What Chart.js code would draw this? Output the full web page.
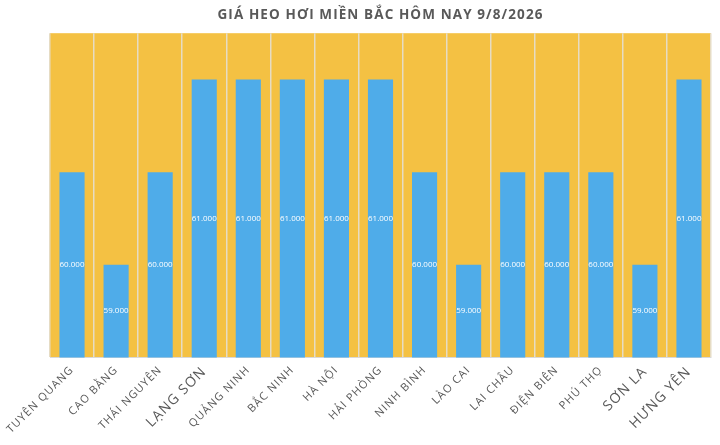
<!DOCTYPE html>
<html>
<head>
<meta charset="utf-8">
<script src="https://cdn.jsdelivr.net/npm/chart.js@4.4.0/dist/chart.umd.min.js"></script>
<style>
  html, body { margin: 0; padding: 0; background: #fff; }
  #wrap { width: 720px; height: 445px; }
</style>
</head>
<body>
<div id="wrap"><canvas id="giaChart"></canvas></div>
<script>
// gia heo hoi mien Bac
const provinces = [
  'TUYÊN QUANG', 'CAO BẰNG', 'THÁI NGUYÊN', 'LẠNG SƠN', 'QUẢNG NINH',
  'BẮC NINH', 'HÀ NỘI', 'HẢI PHÒNG', 'NINH BÌNH', 'LÀO CAI',
  'LAI CHÂU', 'ĐIỆN BIÊN', 'PHÚ THỌ', 'SƠN LA', 'HƯNG YÊN'
];
const prices = [60000, 59000, 60000, 61000, 61000, 61000, 61000, 61000, 60000, 59000, 60000, 60000, 60000, 59000, 61000];
const bigLabels = ['LẠNG SƠN', 'SƠN LA', 'HƯNG YÊN'];

function fmt(v) {
  return (v / 1000).toFixed(3);
}

// yellow background behind the plot, letter spacing for title + ticks
const bgPlugin = {
  id: 'bg',
  beforeDraw(chart) {
    const { ctx, chartArea: a } = chart;
    ctx.save();
    ctx.fillStyle = '#F4C143';
    ctx.fillRect(a.left, a.top, a.right - a.left, a.bottom - a.top);
    ctx.restore();
    ctx.letterSpacing = '1.1px';
  }
};

// value labels in the middle of each bar
const valuePlugin = {
  id: 'barValues',
  afterDraw(chart) {
    const ctx = chart.ctx;
    const xs = chart.scales.x;
    const ys = chart.scales.y;
    const bottom = chart.chartArea.bottom;
    ctx.letterSpacing = '0px';
    ctx.save();
    ctx.fillStyle = '#ffffff';
    ctx.font = '8px "Open Sans", "DejaVu Sans", sans-serif';
    ctx.textAlign = 'center';
    ctx.textBaseline = 'middle';
    prices.forEach((v, i) => {
      const x = xs.getPixelForValue(i);
      const top = ys.getPixelForValue(v);
      ctx.fillText(fmt(v), x, (top + bottom) / 2);
    });
    ctx.restore();
  }
};

new Chart(document.getElementById('giaChart'), {
  type: 'bar',
  data: {
    labels: provinces,
    datasets: [{
      data: prices,
      backgroundColor: '#4FACE9',
      barPercentage: 0.57,
      categoryPercentage: 1
    }]
  },
  options: {
    responsive: true,
    maintainAspectRatio: false,
    animation: false,
    layout: { padding: { left: 50, right: 9, top: 0, bottom: 9 } },
    plugins: {
      legend: { display: false },
      tooltip: { enabled: false },
      title: {
        display: true,
        text: 'GIÁ HEO HƠI MIỀN BẮC HÔM NAY 9/8/2026',
        color: '#595959',
        font: { family: '"Open Sans", sans-serif', size: 13.5, weight: 'bold' },
        padding: { top: 7, bottom: 10 }
      }
    },
    scales: {
      x: {
        offset: true,
        grid: {
          display: true,
          offset: true,
          color: '#E6DCC4',
          lineWidth: 1.5,
          drawTicks: false
        },
        border: { display: true, color: '#D9D9D9' },
        ticks: {
          color: '#595959',
          autoSkip: false,
          maxRotation: 45,
          minRotation: 45,
          padding: 6,
          font: (c) => ({
            family: '"Open Sans", sans-serif',
            size: bigLabels.includes(provinces[c.index]) ? 14 : 11
          })
        }
      },
      y: {
        display: false,
        min: 58000,
        max: 61500
      }
    }
  },
  plugins: [bgPlugin, valuePlugin]
});
</script>
</body>
</html>
